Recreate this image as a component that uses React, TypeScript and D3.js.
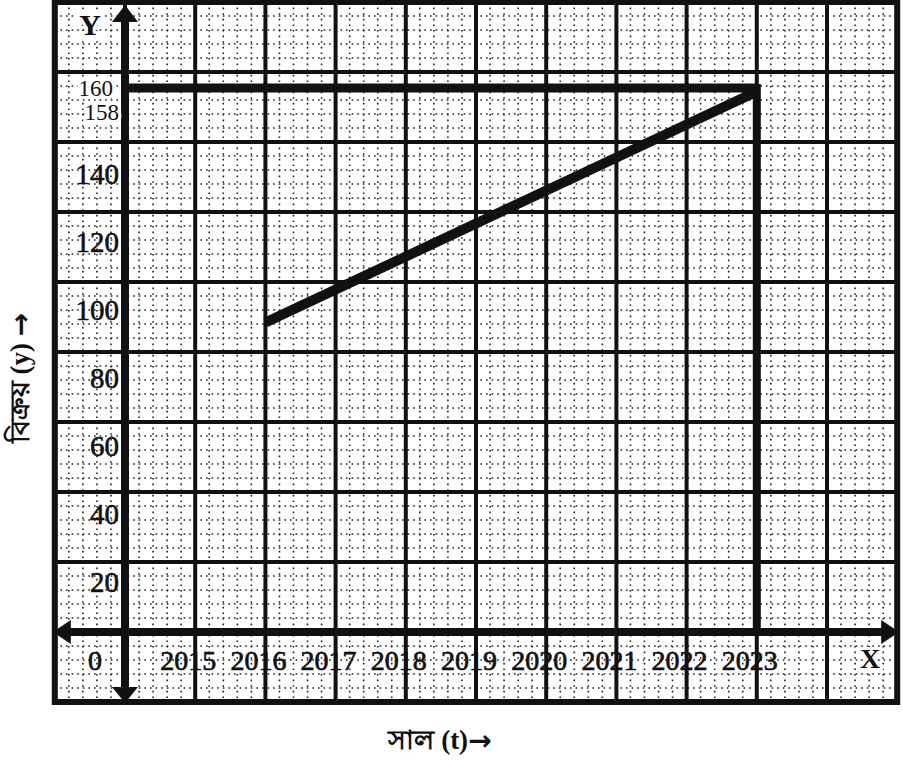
import * as d3 from "d3";

// chart data
const years = [2015, 2016, 2017, 2018, 2019, 2020, 2021, 2022, 2023];
const yTicks = [20, 40, 60, 80, 100, 120, 140];
const trendYears = [2016, 2023];
const trendSales = [91, 159];
const forecastYear = 2023;
const forecastValue = 160;
const forecastLabels = ["160", "158"];

const W = 903, H = 762;
const font = "'Liberation Serif', 'DejaVu Serif', serif";

const x = d3.scaleLinear().domain([2014, 2024]).range([125, 827]);
const y = d3.scaleLinear().domain([0, 160]).range([632, 88]);

// graph paper (layout only)
const cellH = 70;
const gridLeft = x(2013), gridRight = x(2025);
const gridTop = y(0) - 9 * cellH, gridBottom = y(0) + cellH;

function GraphPaper() {
  const colsMajor = d3.range(2013, 2026);
  const rowsMajor = d3.range(0, 11).map((k) => gridTop + k * cellH);
  const cellW = x(2015) - x(2014);
  const minorX: number[] = [];
  colsMajor.slice(0, -1).forEach((c) => {
    for (let i = 1; i < 5; i++) minorX.push(x(c) + (i * cellW) / 5);
  });
  const minorY: number[] = [];
  rowsMajor.slice(0, -1).forEach((r) => {
    for (let i = 1; i < 5; i++) minorY.push(r + (i * cellH) / 5);
  });
  return (
    <g>
      {minorX.map((v, i) => (
        <line key={"mx" + i} x1={v} x2={v} y1={gridTop} y2={gridBottom}
          stroke="#222" strokeWidth={1.6} strokeDasharray="1.6 4" />
      ))}
      {minorY.map((v, i) => (
        <line key={"my" + i} x1={gridLeft} x2={gridRight} y1={v} y2={v}
          stroke="#222" strokeWidth={1.6} strokeDasharray="1.6 4" />
      ))}
      {colsMajor.map((c) => (
        <line key={"cx" + c} x1={x(c)} x2={x(c)} y1={gridTop} y2={gridBottom}
          stroke="#111" strokeWidth={4} />
      ))}
      {rowsMajor.map((r, i) => (
        <line key={"ry" + i} x1={gridLeft} x2={gridRight} y1={r} y2={r}
          stroke="#111" strokeWidth={4} />
      ))}
      <rect x={gridLeft} y={gridTop} width={gridRight - gridLeft} height={gridBottom - gridTop}
        fill="none" stroke="#111" strokeWidth={6} />
    </g>
  );
}

export default function App() {
  const x0 = x(2014), y0 = y(0);
  const trend = d3.line<number>()
    .x((_, i) => x(trendYears[i]))
    .y((d) => y(d));
  const halo = { paintOrder: "stroke" as const, stroke: "#fff", strokeWidth: 6 };
  const arrowFont = "'DejaVu Sans', sans-serif";
  return (
    <svg width={W} height={H} style={{ position: "absolute", left: 0, top: 0, background: "#fff" }}
      fontFamily={font}>
      <rect width={W} height={H} fill="#fff" />
      <GraphPaper />

      {/* axes */}
      <line x1={x0} x2={x0} y1={gridTop + 14} y2={gridBottom - 12} stroke="#111" strokeWidth={8} />
      <line x1={gridLeft + 12} x2={gridRight - 12} y1={y0} y2={y0} stroke="#111" strokeWidth={8} />
      <path d={`M${x0},${gridTop + 3}L${x0 - 13},${gridTop + 20}L${x0 + 13},${gridTop + 20}Z`} fill="#111" />
      <path d={`M${x0},${gridBottom + 1}L${x0 - 13},${gridBottom - 15}L${x0 + 13},${gridBottom - 15}Z`} fill="#111" />
      <path d={`M${gridLeft - 2},${y0}L${gridLeft + 16},${y0 - 12}L${gridLeft + 16},${y0 + 12}Z`} fill="#111" />
      <path d={`M${gridRight + 2},${y0}L${gridRight - 16},${y0 - 12}L${gridRight - 16},${y0 + 12}Z`} fill="#111" />

      {/* forecast projections */}
      <line x1={x0} x2={x(forecastYear)} y1={y(forecastValue)} y2={y(forecastValue)}
        stroke="#111" strokeWidth={9} />
      <line x1={x(forecastYear)} x2={x(forecastYear)} y1={y(forecastValue) - 4} y2={y0}
        stroke="#111" strokeWidth={8} />

      {/* trend line */}
      <path d={trend(trendSales) || ""} fill="none" stroke="#111" strokeWidth={10} />

      {/* y tick labels */}
      {yTicks.map((t) => (
        <text key={t} x={119} y={y(t) + 18} textAnchor="end" dominantBaseline="central"
          fontSize={29} fill="#111" stroke="#111" strokeWidth={0.6}>{t}</text>
      ))}
      <text x={113} y={y(forecastValue)} textAnchor="end" dominantBaseline="central"
        fontSize={23} fill="#111" {...halo}>{forecastLabels[0]}</text>
      <text x={119} y={y(forecastValue) + 24} textAnchor="end" dominantBaseline="central"
        fontSize={23} fill="#111" {...halo}>{forecastLabels[1]}</text>

      {/* x tick labels */}
      {years.map((yr) => (
        <text key={yr} x={x(yr) - 7} y={y0 + 28} textAnchor="middle" dominantBaseline="central"
          fontSize={28} fill="#111" stroke="#111" strokeWidth={0.7}>{yr}</text>
      ))}
      <text x={95} y={y0 + 28} textAnchor="middle" dominantBaseline="central" fontSize={28}
        fill="#111" stroke="#111" strokeWidth={0.7}>0</text>
      <text x={870} y={y0 + 26} textAnchor="middle" dominantBaseline="central" fontSize={28}
        fontWeight="bold" fill="#111" {...halo}>X</text>
      <text x={90} y={24} textAnchor="middle" dominantBaseline="central" fontSize={30}
        fontWeight="bold" fill="#111" {...halo}>Y</text>

      {/* axis titles */}
      <text transform="translate(20,378) rotate(-90)" textAnchor="middle" dominantBaseline="central"
        fontSize={27} fontWeight="bold" fill="#111">বিক্রয় (y) <tspan fontFamily={arrowFont} fontSize={28}>→</tspan></text>
      <text x={440} y={740} textAnchor="middle" dominantBaseline="central" fontSize={27}
        fontWeight="bold" fill="#111">সাল (t)<tspan fontFamily={arrowFont} fontSize={28}>→</tspan></text>
    </svg>
  );
}
